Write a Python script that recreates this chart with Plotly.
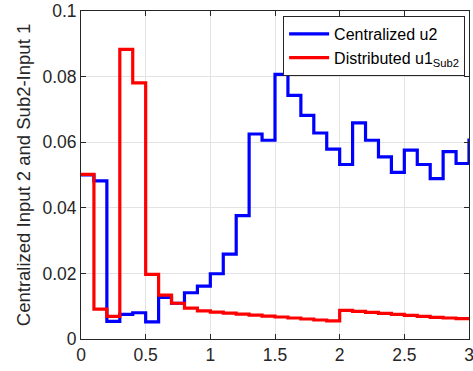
import plotly.graph_objects as go

# Sample times (s) and control inputs, held constant over each 0.1 s step
t = [round(0.1 * k, 1) for k in range(31)]

centralized_u2 = [
    0.0500, 0.0482, 0.0054, 0.0075, 0.0080, 0.0052, 0.0127, 0.0109, 0.0141, 0.0161,
    0.0199, 0.0259, 0.0376, 0.0625, 0.0606, 0.0807, 0.0743, 0.0682, 0.0628, 0.0579,
    0.0532, 0.0659, 0.0606, 0.0555, 0.0508, 0.0576, 0.0532, 0.0489, 0.0571, 0.0535,
    0.0611,
]

distributed_u1_sub2 = [
    0.0502, 0.0091, 0.0069, 0.0883, 0.0781, 0.0197, 0.0134, 0.0109, 0.0094, 0.0086,
    0.0082, 0.0079, 0.0076, 0.0073, 0.0070, 0.0067, 0.0064, 0.0061, 0.0058, 0.0055,
    0.0087, 0.0084, 0.0081, 0.0078, 0.0075, 0.0072, 0.0069, 0.0066, 0.0064, 0.0062,
    0.0060,
]

x_ticks = [0, 0.5, 1, 1.5, 2, 2.5, 3]
x_tick_text = ["0", "0.5", "1", "1.5", "2", "2.5", "3"]
y_ticks = [0, 0.02, 0.04, 0.06, 0.08, 0.1]
y_tick_text = ["0", "0.02", "0.04", "0.06", "0.08", "0.1"]

FONT = "Liberation Sans, Arial, Helvetica, sans-serif"
INK = "#262626"

fig = go.Figure()
fig.add_trace(go.Scatter(
    x=t, y=centralized_u2, mode="lines", line_shape="hv",
    line=dict(color="#0000ff", width=3.2), name="Centralized u2",
))
fig.add_trace(go.Scatter(
    x=t, y=distributed_u1_sub2, mode="lines", line_shape="hv",
    line=dict(color="#ff0000", width=3.2), name="Distributed u1<sub>Sub2</sub>",
))

axis_common = dict(
    showline=True, linecolor=INK, linewidth=1, mirror="ticks",
    ticks="inside", ticklen=5, tickcolor=INK, tickwidth=1,
    showgrid=True, gridcolor="#e3e3e3", gridwidth=1, zeroline=False,
    tickfont=dict(family=FONT, size=17.5, color=INK),
    ticklabeloverflow="allow", automargin=False,
)

fig.update_xaxes(range=[0, 3], tickvals=x_ticks, ticktext=x_tick_text, **axis_common)
fig.update_yaxes(
    range=[0, 0.1], tickvals=y_ticks, ticktext=y_tick_text,
    title=dict(text="Centralized Input 2 and Sub2-Input 1",
               font=dict(family=FONT, size=18.5, color=INK), standoff=6),
    **axis_common,
)

fig.update_layout(
    width=473, height=371,
    margin=dict(l=81, r=4, t=11, b=32, autoexpand=False),
    paper_bgcolor="white", plot_bgcolor="white",
    showlegend=True,
    legend=dict(
        x=0.99, y=0.985, xanchor="right", yanchor="top",
        bgcolor="white", bordercolor=INK, borderwidth=1,
        font=dict(family=FONT, size=16, color="black"),
        tracegroupgap=0, itemwidth=40,
    ),
)

fig.write_html("out.html")
